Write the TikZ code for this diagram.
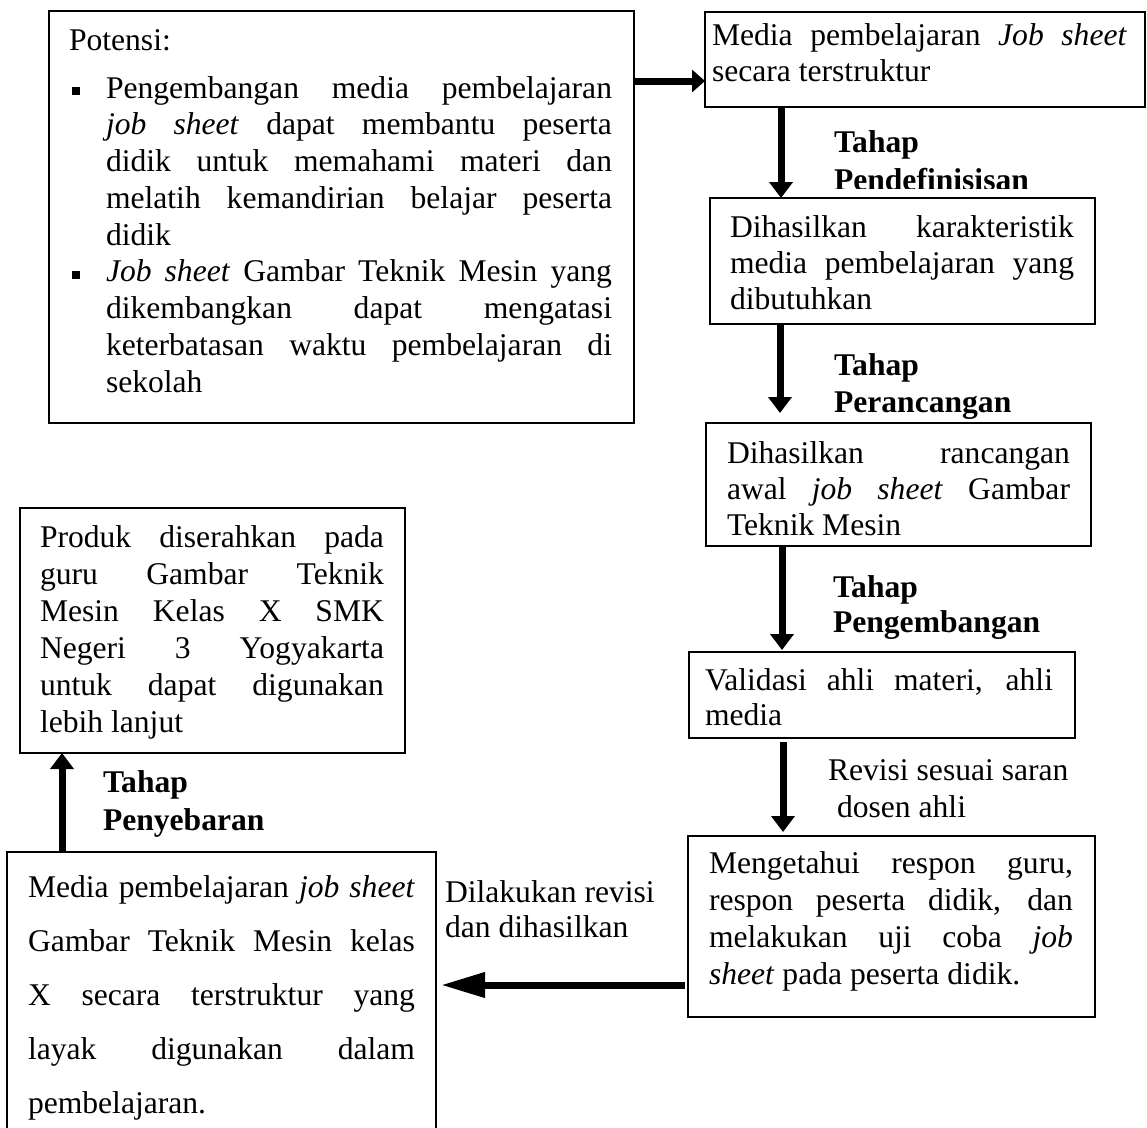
\documentclass[tikz,border=0pt]{standalone}
\usepackage{fontspec}
\setmainfont{Liberation Serif}
\usetikzlibrary{arrows.meta}
\tikzset{
 box/.style={draw=black, line width=1.2pt, anchor=north west, inner sep=0pt, outer sep=0pt},
 txt/.style={anchor=base west, inner sep=0pt, outer sep=0pt, font=\fontsize{31.6}{37}\selectfont},
 lbl/.style={anchor=base west, inner sep=0pt, outer sep=0pt, font=\fontsize{31.6}{37}\selectfont\bfseries},
 conn/.style={line width=7pt, -{Triangle[width=23pt,length=16pt]}},
 connlong/.style={line width=7pt, -{Triangle[width=24pt,length=44pt]}},
 connshort/.style={line width=7pt, -{Triangle[width=22pt,length=13pt]}},
 bul/.style={fill=black, minimum size=8pt, inner sep=0pt}
}
\newcommand{\jtext}[6]{\foreach \lin [count=\k] in {#6}{\node[txt] (#1-\k) at ({#2},{#3+(\k-1)*#4}) {\makebox[#5pt][s]{\lin}};}}
\begin{document}
\begin{tikzpicture}[x=1pt,y=-1pt]
\useasboundingbox (0,0) rectangle (1147,1127);
\clip (0,0) rectangle (1147,1127);
% box 1
\node[box, minimum width=585pt, minimum height=412pt] (b1) at (49,11) {};
\node[txt] (pot) at (69,50) {Potensi:};
\node[bul] (bu1) at (75.5,91) {};
\node[bul] (bu2) at (75.5,275) {};
\jtext{p}{106}{98}{36.75}{506}{{Pengembangan media pembelajaran},{\textit{job sheet} dapat membantu peserta},{didik untuk memahami materi dan},{melatih kemandirian belajar peserta},{didik\hfill},{\textit{Job sheet} Gambar Teknik Mesin yang},{dikembangkan dapat mengatasi},{keterbatasan waktu pembelajaran di},{sekolah\hfill}}
% box 2
\node[box, minimum width=440pt, minimum height=95pt] (b2) at (705,12) {};
\jtext{q}{712}{45}{36}{415}{{Media pembelajaran \textit{Job sheet}},{secara terstruktur\hfill}}
% box 3
\node[box, minimum width=385pt, minimum height=126pt] (b3) at (710,198) {};
\jtext{r}{730}{237}{36}{344}{{Dihasilkan karakteristik},{media pembelajaran yang},{dibutuhkan\hfill}}
% box 4
\node[box, minimum width=385pt, minimum height=123pt] (b4) at (706,423) {};
\jtext{s}{727}{463}{36}{343}{{Dihasilkan rancangan},{awal \textit{job sheet} Gambar},{Teknik Mesin\hfill}}
% box 5
\node[box, minimum width=386pt, minimum height=86pt] (b5) at (689,652) {};
\jtext{u}{705}{690}{35}{348}{{Validasi ahli materi, ahli},{media\hfill}}
% box 6
\node[box, minimum width=407pt, minimum height=181pt] (b6) at (688,836) {};
\jtext{v}{709}{873}{37}{364}{{Mengetahui respon guru,},{respon peserta didik, dan},{melakukan uji coba \textit{job}},{\textit{sheet} pada peserta didik.\hfill}}
% box 7
\node[box, minimum width=429pt, minimum height=300pt] (b7) at (7,852) {};
\jtext{w}{28}{897}{54.1}{387}{{Media pembelajaran \textit{job sheet}},{Gambar Teknik Mesin kelas},{X secara terstruktur yang},{layak digunakan dalam},{pembelajaran.\hfill}}
% box 8
\node[box, minimum width=385pt, minimum height=245pt] (b8) at (20,508) {};
\jtext{z}{40}{547}{37}{344}{{Produk diserahkan pada},{guru Gambar Teknik},{Mesin Kelas X SMK},{Negeri 3 Yogyakarta},{untuk dapat digunakan},{lebih lanjut\hfill}}
% connectors
\draw[connshort] (b1.east |- 0,81) -- (b2.west |- 0,81);
\draw[conn] (781,0 |- b2.south) -- (781,0 |- b3.north);
\draw[conn, shorten >=10pt] (780,0 |- b3.south) -- (780,0 |- b4.north);
\draw[conn, shorten >=2pt] (782,0 |- b4.south) -- (782,0 |- b5.north);
\draw[conn, shorten <=4pt, shorten >=4pt] (783,0 |- b5.south) -- (783,0 |- b6.north);
\draw[connlong, shorten <=3pt, shorten >=5pt] (b6.west |- 0,985) -- (b7.east |- 0,985);
\draw[conn] (62,0 |- b7.north) -- (62,0 |- b8.south);
% labels
\node[lbl] (l1a) at (834,152) {Tahap};
\begin{scope}
\clip (700,100) rectangle (1147,188);
\node[lbl] (l1b) at (834,190) {Pendefinisisan};
\end{scope}
\node[lbl] (l2a) at (834,375) {Tahap};
\node[lbl] (l2b) at (834,412) {Perancangan};
\node[lbl] (l3a) at (833,597) {Tahap};
\node[lbl] (l3b) at (833,632) {Pengembangan};
\node[txt] (l4a) at (828,780) {Revisi sesuai saran};
\node[txt] (l4b) at (837,817) {dosen ahli};
\node[txt] (l5a) at (445,902) {Dilakukan revisi};
\node[txt] (l5b) at (445,937) {dan dihasilkan};
\node[lbl] (l6a) at (103,792) {Tahap};
\node[lbl] (l6b) at (103,830) {Penyebaran};
\end{tikzpicture}
\end{document}
